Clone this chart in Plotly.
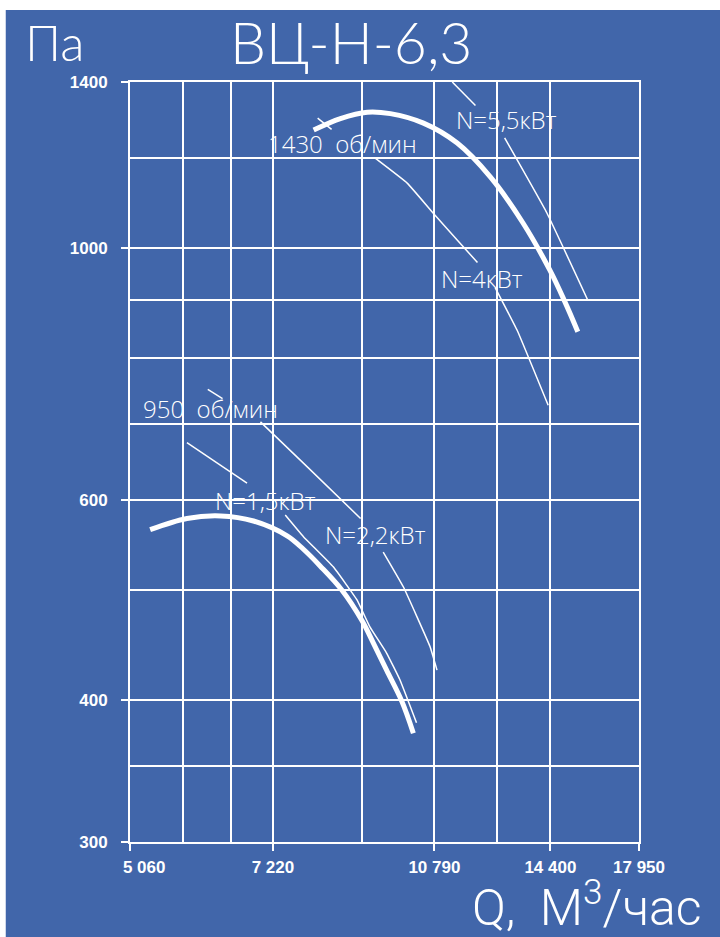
import numpy as np
import plotly.graph_objects as go

# ---- data ----
# fan characteristic, 1430 rpm
Q_1430 = [7990, 8540, 9130, 9670, 10500, 11420, 12400, 13440, 14380, 14925, 15415]
P_1430 = [1270, 1300, 1317, 1313, 1288, 1237, 1155, 1053, 956, 897, 844]
# fan characteristic, 950 rpm
Q_950 = [5320, 5830, 6340, 6880, 7480, 7790, 8120, 8570, 9010, 9270, 9580, 9950, 10240]
P_950 = [565, 578, 581, 575, 558, 543, 525, 500, 470, 449, 425, 399, 374]
# constant power lines (None = gap for label)
Q_N55 = [11280, 11950, None, 12850, 14270, 15800]
P_N55 = [1400, 1335, None, 1250, 1074, 900]
Q_N4 = [8070, 8355, None, 9320, 10090, 10760, 11425, 12010, None, 12550, 13260, 14320]
P_N4 = [1301, 1272, None, 1199, 1140, 1073, 1016, 971, None, 923, 846, 727]
Q_N15 = [5830, 6770, None, 7445, 7790, 8390, 8900, 9190, 9580, 9900, 10320]
P_N15 = [674, 621, None, 582, 557, 524, 490, 464, 440, 417, 382]
Q_N22 = [6140, 6370, None, 7000, 7860, 8980, None, 9500, 9990, 10670, 10860]
P_N22 = [751, 737, None, 703, 642, 578, None, 540, 503, 446, 425]

# axis ticks
x_ticks = [5060, 7220, 10790, 14400, 17950]
x_ticktext = ["\u00a0\u00a0\u00a0\u00a0\u00a0\u00a05 060", "7 220", "10 790", "14 400", "17 950"]
x_minor = [5780, 6500, 9005, 12595]
y_ticks = [300, 400, 600, 1000, 1400]
y_ticktext = ["300", "400", "600", "1000", "1400"]
y_minor = [350, 500, 700, 800, 900, 1200]

# labels (text, Q, P)
labels = ["1430\u00a0 об/мин", "N=5,5кВт", "N=4кВт", "950\u00a0 об/мин", "N=1,5кВт", "N=2,2кВт"]
label_Q = [8587, 12902, 12132, 6180, 7085, 9320]
label_P = [1235, 1297, 941, 723, 599, 559]

BG = "#4166AA"
W = "#FFFFFF"
TICK_FONT = dict(family="Liberation Sans, Arial, sans-serif", color=W, size=17, weight="bold")

fig = go.Figure()
for q, p in [(Q_N55, P_N55), (Q_N4, P_N4), (Q_N15, P_N15), (Q_N22, P_N22)]:
    fig.add_trace(go.Scatter(x=q, y=p, mode="lines", connectgaps=False,
                             line=dict(color=W, width=1.5, shape="spline", smoothing=0.3),
                             hoverinfo="skip", showlegend=False))
for q, p in [(Q_1430, P_1430), (Q_950, P_950)]:
    fig.add_trace(go.Scatter(x=q, y=p, mode="lines",
                             line=dict(color=W, width=5, shape="spline", smoothing=1.0),
                             hoverinfo="skip", showlegend=False))

annotations = []
for t, q, p in zip(labels, label_Q, label_P):
    annotations.append(dict(text=t, x=np.log10(q), y=np.log10(p), xref="x", yref="y",
                            showarrow=False, xanchor="center", yanchor="middle",
                            font=dict(family="Open Sans", weight=300, color=W, size=24)))
annotations += [
    dict(text="ВЦ-Н-6,3", x=0.434, y=1.0526, xref="paper", yref="paper", showarrow=False,
         xanchor="center", yanchor="middle",
         font=dict(family="Lato", weight=300, color=W, size=57)),
    dict(text="Па", x=-0.211, y=1.0526, xref="paper", yref="paper", showarrow=False,
         xanchor="left", yanchor="middle",
         font=dict(family="Lato", weight=300, color=W, size=50)),
    dict(text="Q,\u00a0 М<sup>3</sup>/час", x=0.897, y=-0.0816, xref="paper", yref="paper",
         showarrow=False, xanchor="center", yanchor="middle",
         font=dict(family="Roboto", weight=300, color=W, size=50)),
]

axis_common = dict(type="log", showgrid=True, gridcolor=W, gridwidth=2,
                   showline=True, linecolor=W, linewidth=2, mirror=True,
                   ticks="outside", ticklen=7, tickwidth=2, tickcolor=W,
                   tickfont=TICK_FONT, zeroline=False, tickmode="array")

fig.update_xaxes(**axis_common, range=[np.log10(5060), np.log10(17950)],
                 tickvals=x_ticks, ticktext=x_ticktext, ticklabelstandoff=2,
                 minor=dict(tickmode="array", tickvals=x_minor, showgrid=True,
                            gridcolor=W, gridwidth=2, ticks=""))
fig.update_yaxes(**axis_common, range=[np.log10(300), np.log10(1400)],
                 tickvals=y_ticks, ticktext=y_ticktext, ticklabelstandoff=10,
                 minor=dict(tickmode="array", tickvals=y_minor, showgrid=True,
                            gridcolor=W, gridwidth=2, ticks=""))

fig.update_layout(
    width=720, height=937,
    margin=dict(l=129.5, r=80.5, t=82, b=95, pad=0),
    paper_bgcolor=BG, plot_bgcolor=BG,
    annotations=annotations,
    shapes=[
        dict(type="rect", xref="paper", yref="paper", x0=-0.4, x1=1.4, y0=1.0947, y1=1.3,
             fillcolor=W, line=dict(width=0), layer="below"),
        dict(type="rect", xref="paper", yref="paper", x0=-0.4, x1=-0.2441, y0=-0.4, y1=1.3,
             fillcolor=W, line=dict(width=0), layer="below"),
    ],
)

fig.write_html("out.html", config={"displayModeBar": False},
               post_script="document.body.style.margin='0';document.body.style.overflow='hidden';")
